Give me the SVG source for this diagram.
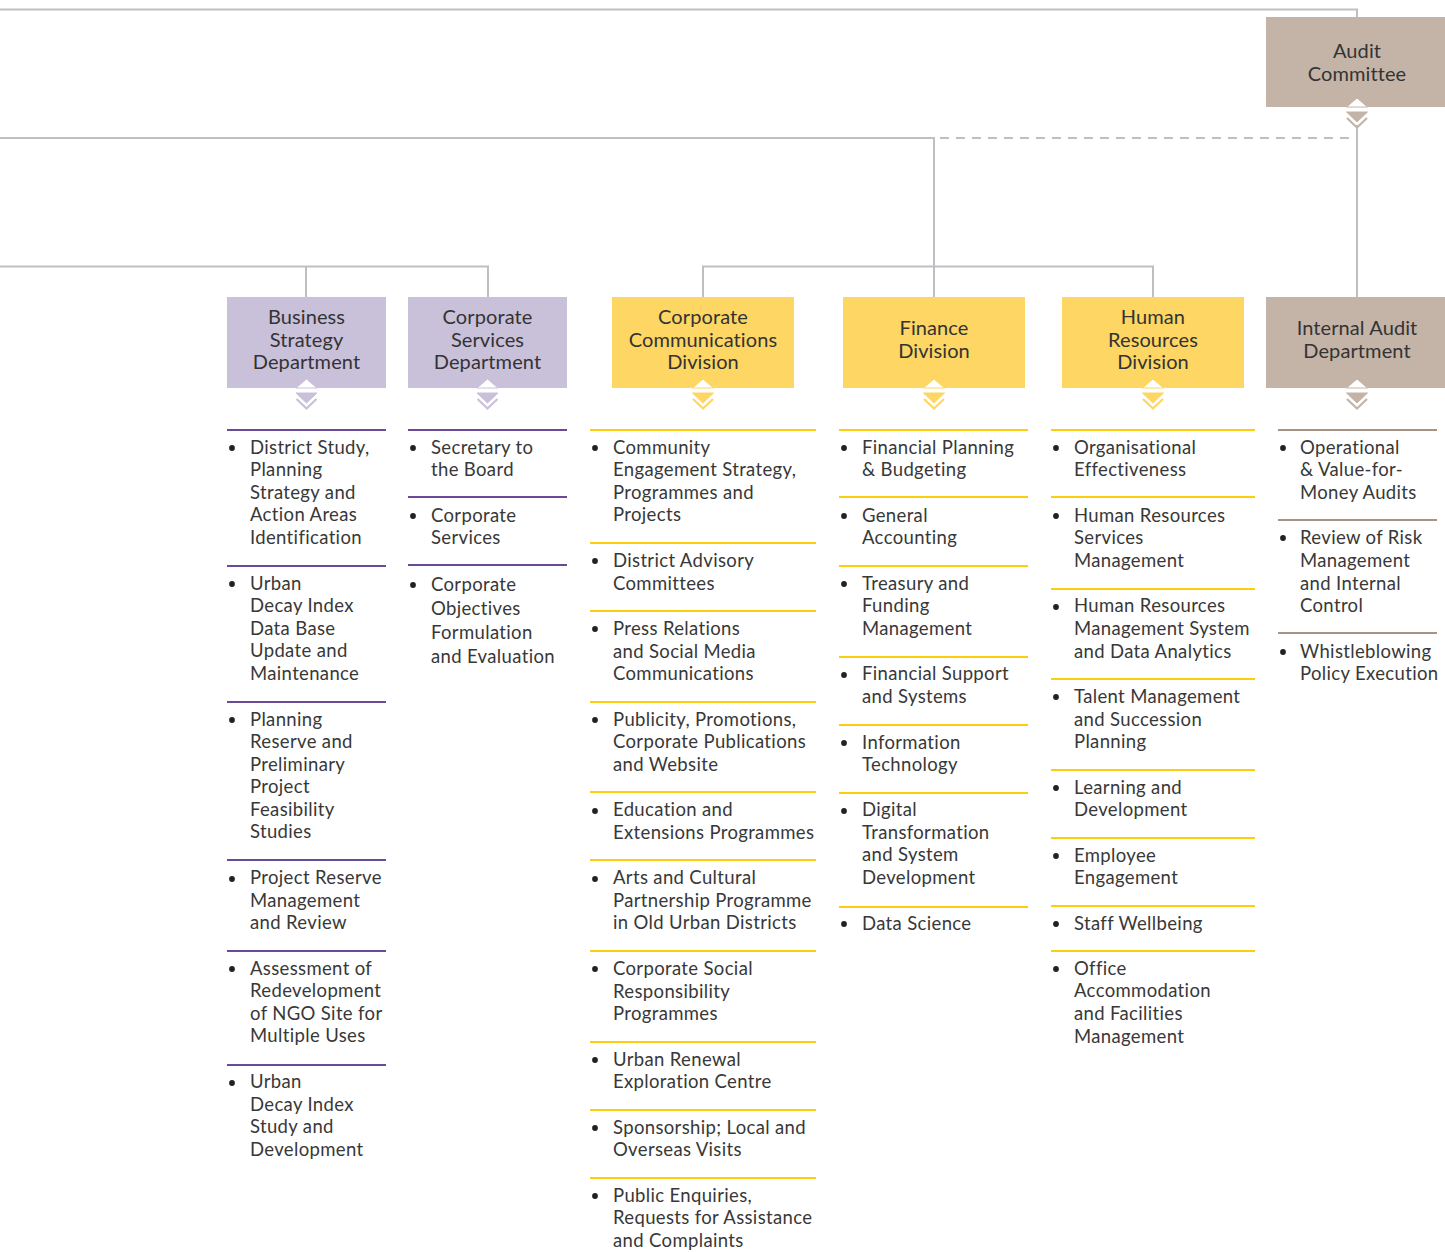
<svg xmlns="http://www.w3.org/2000/svg" width="1445" height="1252" viewBox="0 0 1445 1252">
<style>
.bg{fill:#ffffff}
.ln{fill:none;stroke:#bfbfc3;stroke-width:2}
.dash{fill:none;stroke:#bfbfc3;stroke-width:2;stroke-dasharray:9,7}
.pur{fill:#c9c0da}
.yel{fill:#fdd663}
.brn{fill:#c4b4a7}
.sp{stroke:#6a4a96;stroke-width:2}
.sy{stroke:#fdcf0a;stroke-width:2}
.sb{stroke:#a89282;stroke-width:2}
.lbl{font-family:Lato,"Noto Sans",sans-serif;font-size:20px;fill:#333333;text-anchor:middle;letter-spacing:0.1px}
.t{font-family:Lato,"Noto Sans",sans-serif;font-size:18.5px;fill:#383838;letter-spacing:0.35px}
.dot{fill:#222222}
</style>
<defs>
<g id="mk">
<polygon points="-10.5,0 0,-9 10.5,0" fill="#ffffff"/>
<polygon points="-10.5,5 10.5,5 0,15"/>
<polyline points="-10,11 0,20.5 10,11" fill="none" stroke-width="2.2"/>
</g>
</defs>
<rect class="bg" x="0" y="0" width="1445" height="1252"/>
<g id="connectors">
<polyline class="ln" points="0,9.5 1357,9.5 1357,17"/>
<polyline class="ln" points="0,138 934,138 934,297"/>
<line class="dash" x1="940" y1="138" x2="1352" y2="138"/>
<line class="ln" x1="1357" y1="125" x2="1357" y2="297"/>
<polyline class="ln" points="0,266.5 488,266.5 488,297"/>
<line class="ln" x1="306" y1="266.5" x2="306" y2="297"/>
<polyline class="ln" points="703,297 703,266.5 1153,266.5 1153,297"/>
</g>
<g id="audit-committee">
<rect class="brn" x="1266" y="17" width="179" height="90"/>
<text class="lbl" x="1357" y="58">Audit</text>
<text class="lbl" x="1357" y="81">Committee</text>
<use href="#mk" x="1357" y="107" fill="#c4b4a7" stroke="#c4b4a7"/>
</g>
<g id="business-strategy">
<rect class="pur" x="227" y="297" width="159" height="91"/>
<text class="lbl" x="306.5" y="324">Business</text>
<text class="lbl" x="306.5" y="347">Strategy</text>
<text class="lbl" x="306.5" y="369">Department</text>
<use href="#mk" x="306.5" y="388" fill="#c9c0da" stroke="#c9c0da"/>
</g>
<g id="corporate-services">
<rect class="pur" x="408" y="297" width="159" height="91"/>
<text class="lbl" x="487.5" y="324">Corporate</text>
<text class="lbl" x="487.5" y="347">Services</text>
<text class="lbl" x="487.5" y="369">Department</text>
<use href="#mk" x="487.5" y="388" fill="#c9c0da" stroke="#c9c0da"/>
</g>
<g id="corporate-communications">
<rect class="yel" x="612" y="297" width="182" height="91"/>
<text class="lbl" x="703" y="324">Corporate</text>
<text class="lbl" x="703" y="347">Communications</text>
<text class="lbl" x="703" y="369">Division</text>
<use href="#mk" x="703" y="388" fill="#fdd663" stroke="#fdd663"/>
</g>
<g id="finance">
<rect class="yel" x="843" y="297" width="182" height="91"/>
<text class="lbl" x="934" y="335">Finance</text>
<text class="lbl" x="934" y="358">Division</text>
<use href="#mk" x="934" y="388" fill="#fdd663" stroke="#fdd663"/>
</g>
<g id="human-resources">
<rect class="yel" x="1062" y="297" width="182" height="91"/>
<text class="lbl" x="1153" y="324">Human</text>
<text class="lbl" x="1153" y="347">Resources</text>
<text class="lbl" x="1153" y="369">Division</text>
<use href="#mk" x="1153" y="388" fill="#fdd663" stroke="#fdd663"/>
</g>
<g id="internal-audit">
<rect class="brn" x="1266" y="297" width="179" height="91"/>
<text class="lbl" x="1357" y="335">Internal Audit</text>
<text class="lbl" x="1357" y="358">Department</text>
<use href="#mk" x="1357" y="388" fill="#c4b4a7" stroke="#c4b4a7"/>
</g>

<g id="list-business-strategy">
<g class="sp"><line x1="227" y1="430" x2="386" y2="430"/><line x1="227" y1="566" x2="386" y2="566"/><line x1="227" y1="702" x2="386" y2="702"/><line x1="227" y1="860" x2="386" y2="860"/><line x1="227" y1="951" x2="386" y2="951"/><line x1="227" y1="1065" x2="386" y2="1065"/></g>
<g class="dot"><circle cx="232" cy="448" r="2.9"/><circle cx="232" cy="584" r="2.9"/><circle cx="232" cy="720" r="2.9"/><circle cx="232" cy="879" r="2.9"/><circle cx="232" cy="969" r="2.9"/><circle cx="232" cy="1083" r="2.9"/></g>
<g class="t">
<text x="250" y="454">District Study,</text><text x="250" y="476">Planning</text><text x="250" y="499">Strategy and</text><text x="250" y="521">Action Areas</text><text x="250" y="544">Identification</text>
<text x="250" y="590">Urban</text><text x="250" y="612">Decay Index</text><text x="250" y="635">Data Base</text><text x="250" y="657">Update and</text><text x="250" y="680">Maintenance</text>
<text x="250" y="726">Planning</text><text x="250" y="748">Reserve and</text><text x="250" y="771">Preliminary</text><text x="250" y="793">Project</text><text x="250" y="816">Feasibility</text><text x="250" y="838">Studies</text>
<text x="250" y="884">Project Reserve</text><text x="250" y="907">Management</text><text x="250" y="929">and Review</text>
<text x="250" y="975">Assessment of</text><text x="250" y="997">Redevelopment</text><text x="250" y="1020">of NGO Site for</text><text x="250" y="1042">Multiple Uses</text>
<text x="250" y="1088">Urban</text><text x="250" y="1111">Decay Index</text><text x="250" y="1133">Study and</text><text x="250" y="1156">Development</text>
</g>
</g>

<g id="list-corporate-services">
<g class="sp"><line x1="408" y1="430" x2="567" y2="430"/><line x1="408" y1="497" x2="567" y2="497"/><line x1="408" y1="565" x2="567" y2="565"/></g>
<g class="dot"><circle cx="413" cy="448" r="2.9"/><circle cx="413" cy="516" r="2.9"/><circle cx="413" cy="585" r="2.9"/></g>
<g class="t">
<text x="431" y="454">Secretary to</text><text x="431" y="476">the Board</text>
<text x="431" y="522">Corporate</text><text x="431" y="544">Services</text>
<text x="431" y="591">Corporate</text><text x="431" y="615">Objectives</text><text x="431" y="639">Formulation</text><text x="431" y="663">and Evaluation</text>
</g>
</g>

<g id="list-corporate-communications">
<g class="sy"><line x1="590" y1="430" x2="816" y2="430"/><line x1="590" y1="543" x2="816" y2="543"/><line x1="590" y1="611" x2="816" y2="611"/><line x1="590" y1="702" x2="816" y2="702"/><line x1="590" y1="792" x2="816" y2="792"/><line x1="590" y1="860" x2="816" y2="860"/><line x1="590" y1="951" x2="816" y2="951"/><line x1="590" y1="1042" x2="816" y2="1042"/><line x1="590" y1="1110" x2="816" y2="1110"/><line x1="590" y1="1178" x2="816" y2="1178"/></g>
<g class="dot"><circle cx="595" cy="448" r="2.9"/><circle cx="595" cy="561" r="2.9"/><circle cx="595" cy="629" r="2.9"/><circle cx="595" cy="720" r="2.9"/><circle cx="595" cy="811" r="2.9"/><circle cx="595" cy="879" r="2.9"/><circle cx="595" cy="969" r="2.9"/><circle cx="595" cy="1060" r="2.9"/><circle cx="595" cy="1128" r="2.9"/><circle cx="595" cy="1196" r="2.9"/></g>
<g class="t">
<text x="613" y="454">Community</text><text x="613" y="476">Engagement Strategy,</text><text x="613" y="499">Programmes and</text><text x="613" y="521">Projects</text>
<text x="613" y="567">District Advisory</text><text x="613" y="590">Committees</text>
<text x="613" y="635">Press Relations</text><text x="613" y="658">and Social Media</text><text x="613" y="680">Communications</text>
<text x="613" y="726">Publicity, Promotions,</text><text x="613" y="748">Corporate Publications</text><text x="613" y="771">and Website</text>
<text x="613" y="816">Education and</text><text x="613" y="839">Extensions Programmes</text>
<text x="613" y="884">Arts and Cultural</text><text x="613" y="907">Partnership Programme</text><text x="613" y="929">in Old Urban Districts</text>
<text x="613" y="975">Corporate Social</text><text x="613" y="998">Responsibility</text><text x="613" y="1020">Programmes</text>
<text x="613" y="1066">Urban Renewal</text><text x="613" y="1088">Exploration Centre</text>
<text x="613" y="1134">Sponsorship; Local and</text><text x="613" y="1156">Overseas Visits</text>
<text x="613" y="1202">Public Enquiries,</text><text x="613" y="1224">Requests for Assistance</text><text x="613" y="1247">and Complaints</text>
</g>
</g>

<g id="list-finance">
<g class="sy"><line x1="839" y1="430" x2="1028" y2="430"/><line x1="839" y1="497" x2="1028" y2="497"/><line x1="839" y1="566" x2="1028" y2="566"/><line x1="839" y1="657" x2="1028" y2="657"/><line x1="839" y1="725" x2="1028" y2="725"/><line x1="839" y1="793" x2="1028" y2="793"/><line x1="839" y1="907" x2="1028" y2="907"/></g>
<g class="dot"><circle cx="844" cy="448" r="2.9"/><circle cx="844" cy="516" r="2.9"/><circle cx="844" cy="584" r="2.9"/><circle cx="844" cy="675" r="2.9"/><circle cx="844" cy="743" r="2.9"/><circle cx="844" cy="811" r="2.9"/><circle cx="844" cy="924" r="2.9"/></g>
<g class="t">
<text x="862" y="454">Financial Planning</text><text x="862" y="476">&amp; Budgeting</text>
<text x="862" y="522">General</text><text x="862" y="544">Accounting</text>
<text x="862" y="590">Treasury and</text><text x="862" y="612">Funding</text><text x="862" y="635">Management</text>
<text x="862" y="680">Financial Support</text><text x="862" y="703">and Systems</text>
<text x="862" y="749">Information</text><text x="862" y="771">Technology</text>
<text x="862" y="816">Digital</text><text x="862" y="839">Transformation</text><text x="862" y="861">and System</text><text x="862" y="884">Development</text>
<text x="862" y="930">Data Science</text>
</g>
</g>

<g id="list-human-resources">
<g class="sy"><line x1="1051" y1="430" x2="1255" y2="430"/><line x1="1051" y1="497" x2="1255" y2="497"/><line x1="1051" y1="589" x2="1255" y2="589"/><line x1="1051" y1="679" x2="1255" y2="679"/><line x1="1051" y1="770" x2="1255" y2="770"/><line x1="1051" y1="838" x2="1255" y2="838"/><line x1="1051" y1="906" x2="1255" y2="906"/><line x1="1051" y1="951" x2="1255" y2="951"/></g>
<g class="dot"><circle cx="1056" cy="448" r="2.9"/><circle cx="1056" cy="516" r="2.9"/><circle cx="1056" cy="607" r="2.9"/><circle cx="1056" cy="697" r="2.9"/><circle cx="1056" cy="788" r="2.9"/><circle cx="1056" cy="856" r="2.9"/><circle cx="1056" cy="924" r="2.9"/><circle cx="1056" cy="969" r="2.9"/></g>
<g class="t">
<text x="1074" y="454">Organisational</text><text x="1074" y="476">Effectiveness</text>
<text x="1074" y="522">Human Resources</text><text x="1074" y="544">Services</text><text x="1074" y="567">Management</text>
<text x="1074" y="612">Human Resources</text><text x="1074" y="635">Management System</text><text x="1074" y="658">and Data Analytics</text>
<text x="1074" y="703">Talent Management</text><text x="1074" y="726">and Succession</text><text x="1074" y="748">Planning</text>
<text x="1074" y="794">Learning and</text><text x="1074" y="816">Development</text>
<text x="1074" y="862">Employee</text><text x="1074" y="884">Engagement</text>
<text x="1074" y="930">Staff Wellbeing</text>
<text x="1074" y="975">Office</text><text x="1074" y="997">Accommodation</text><text x="1074" y="1020">and Facilities</text><text x="1074" y="1043">Management</text>
</g>
</g>

<g id="list-internal-audit">
<g class="sb"><line x1="1278" y1="430" x2="1437" y2="430"/><line x1="1278" y1="520" x2="1437" y2="520"/><line x1="1278" y1="633" x2="1437" y2="633"/></g>
<g class="dot"><circle cx="1283" cy="448" r="2.9"/><circle cx="1283" cy="538" r="2.9"/><circle cx="1283" cy="652" r="2.9"/></g>
<g class="t">
<text x="1300" y="454">Operational</text><text x="1300" y="476">&amp; Value-for-</text><text x="1300" y="499">Money Audits</text>
<text x="1300" y="544">Review of Risk</text><text x="1300" y="567">Management</text><text x="1300" y="590">and Internal</text><text x="1300" y="612">Control</text>
<text x="1300" y="658">Whistleblowing</text><text x="1300" y="680">Policy Execution</text>
</g>
</g>
</svg>
